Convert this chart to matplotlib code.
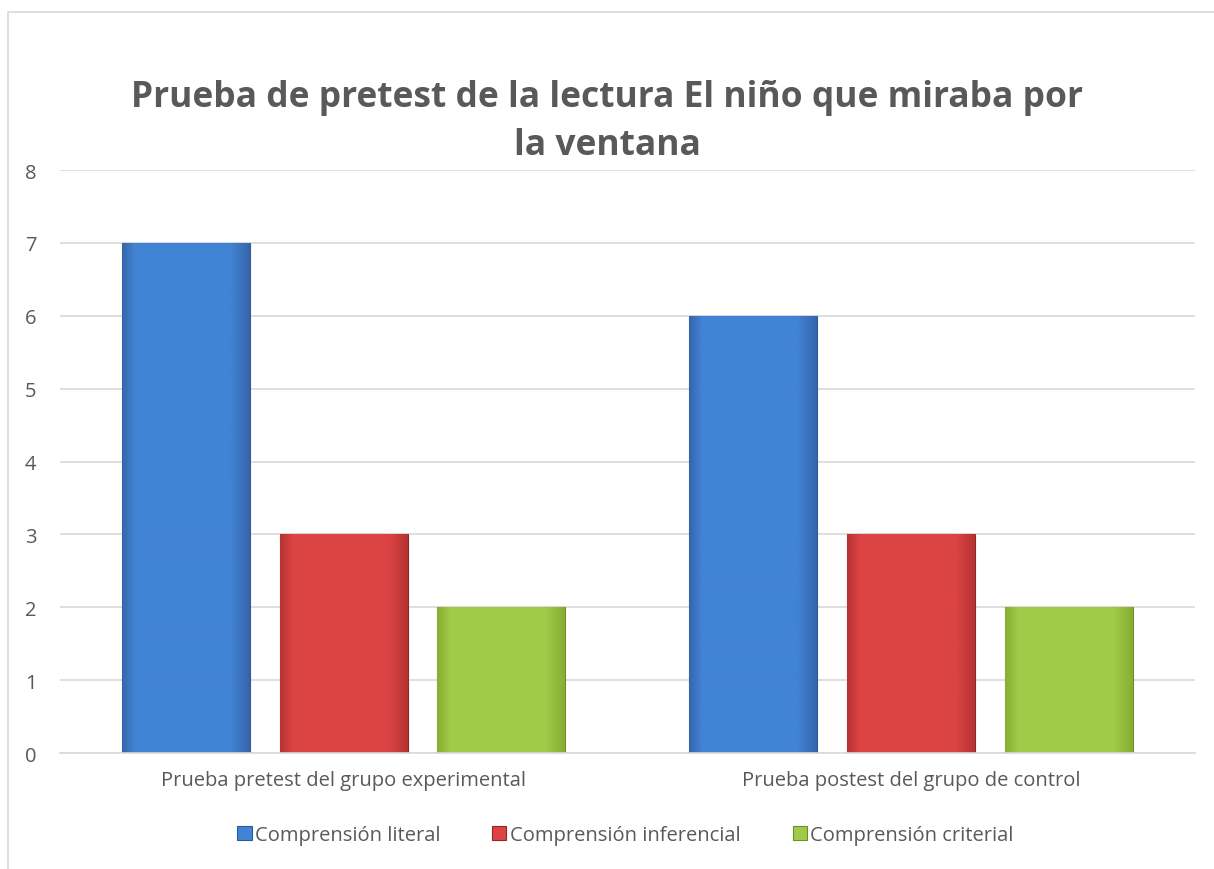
import numpy as np
import matplotlib.pyplot as plt
from matplotlib.colors import LinearSegmentedColormap
from matplotlib.patches import Rectangle

plt.rcParams['font.family'] = ['Open Sans', 'DejaVu Sans']

# data
categories = ['Prueba pretest del grupo experimental', 'Prueba postest del grupo de control']
series_names = ['Comprensión literal', 'Comprensión inferencial', 'Comprensión criterial']
literal = [7, 6]
inferencial = [3, 3]
criterial = [2, 2]
title = 'Prueba de pretest de la lectura El niño que miraba por\nla ventana'

# fill styles: (edge/dark, center/light, outline)
styles = [
    ('#3565AA', '#4183D4', '#2F5A94'),
    ('#B83232', '#DC4444', '#8E2828'),
    ('#86AE33', '#A0CB48', '#6E8E2C'),
]

fig = plt.figure(figsize=(12.14, 8.7), dpi=100)
fig.patches.append(Rectangle((0.007, -0.01), 1.2, 0.995, transform=fig.transFigure,
                             fill=False, edgecolor='#D9D9D9', linewidth=1.2))
ax = fig.add_axes([0.0494, 0.1333, 0.9349, 0.6701])

x = np.arange(len(categories))
width = 0.2255
step = 0.278
all_series = [literal, inferencial, criterial]
for i, (vals, name, (dark, light, outline)) in enumerate(zip(all_series, series_names, styles)):
    bars = ax.bar(x + (i - 1) * step, vals, width, color=light, edgecolor=outline,
                  linewidth=0.8, label=name, zorder=2)
    cmap = LinearSegmentedColormap.from_list(
        'g', [(0, dark), (0.1, light), (0.85, light), (1, dark)])
    grad = np.linspace(0, 1, 256).reshape(1, -1)
    for b in bars:
        im = ax.imshow(grad, extent=[b.get_x(), b.get_x() + b.get_width(), 0, b.get_height()],
                       cmap=cmap, aspect='auto', zorder=2.5)
        im.set_clip_path(b)

ax.set_xlim(-0.5, 1.5)
ax.set_ylim(0, 8)
ax.set_yticks(range(0, 9))
ax.set_xticks(x)
ax.set_xticklabels(categories)
ax.grid(axis='y', color='#D9D9D9', linewidth=1.2, zorder=0)
ax.set_axisbelow(True)
for s in ['top', 'right', 'left']:
    ax.spines[s].set_visible(False)
ax.spines['bottom'].set_color('#D9D9D9')
ax.spines['bottom'].set_linewidth(1.2)
ax.tick_params(axis='both', length=0, labelsize=14.5, colors='#595959')
ax.tick_params(axis='y', pad=17)
ax.tick_params(axis='x', pad=12)

fig.text(0.5, 0.86, title, ha='center', va='center', fontsize=25.5, fontweight='bold',
         color='#595959', linespacing=1.45)

fig.legend(loc='center', bbox_to_anchor=(0.515, 0.039), ncol=3, frameon=False,
           fontsize=14.5, handlelength=0.7, handleheight=0.7, handletextpad=0.15,
           columnspacing=2.6, labelcolor='#595959')

fig.savefig('out.png', dpi=100)
